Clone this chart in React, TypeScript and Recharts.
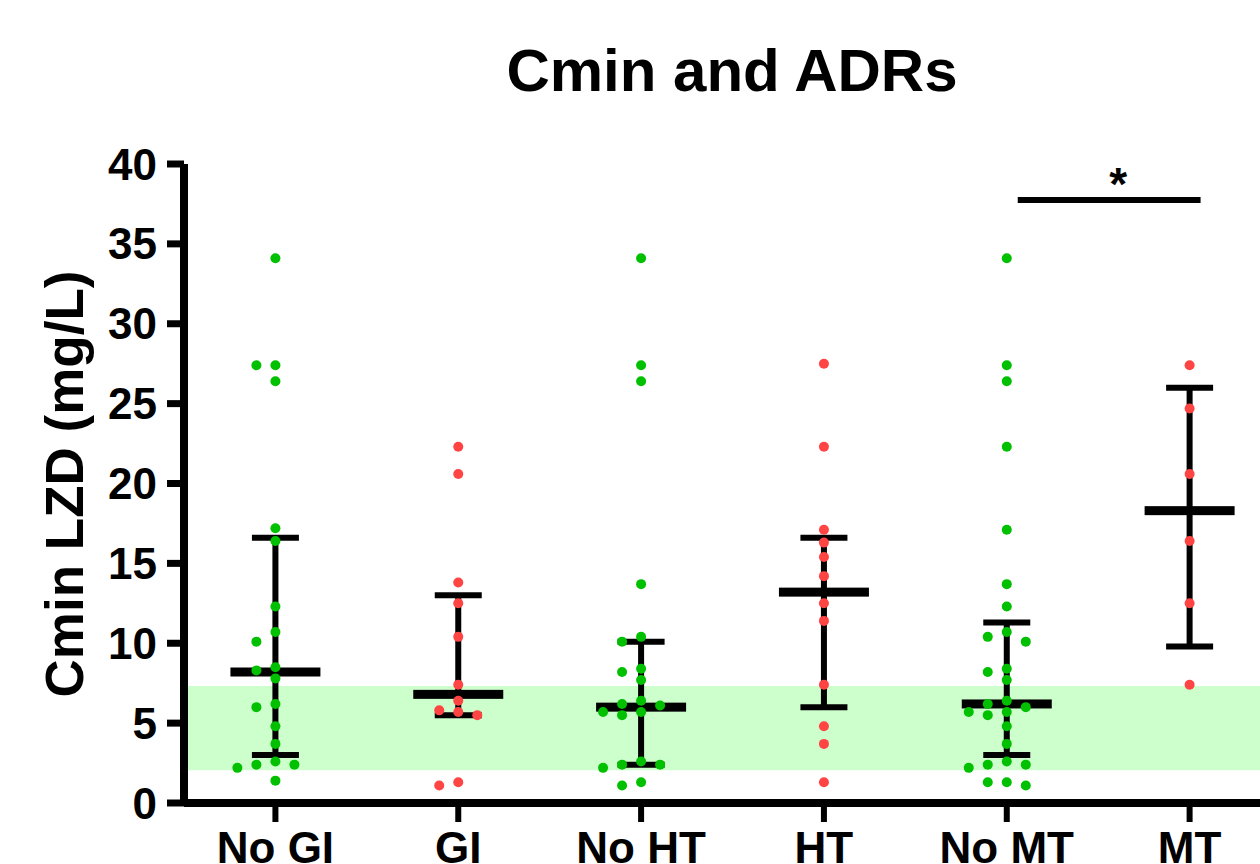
import React from "react";
import {
  ScatterChart,
  Scatter,
  XAxis,
  YAxis,
  ErrorBar,
  ReferenceArea,
  ReferenceLine,
} from "recharts";

const groups = ["No GI", "GI", "No HT", "HT", "No MT", "MT"];

// Cmin values (mg/L)
const noGI = [34.1, 27.4, 27.4, 26.4, 17.2, 16.4, 12.3, 10.7, 10.1, 8.5, 8.3, 7.8, 6.2, 6.0, 4.8, 3.7, 2.6, 2.4, 2.4, 2.2, 1.4];
const gi = [22.3, 20.6, 13.8, 12.5, 10.4, 7.4, 6.4, 5.8, 5.7, 5.5, 1.3, 1.1];
const noHT = [34.1, 27.4, 26.4, 13.7, 10.4, 10.1, 8.4, 8.2, 7.7, 6.4, 6.2, 6.1, 5.7, 5.7, 5.5, 2.6, 2.4, 2.4, 2.2, 1.3, 1.1];
const ht = [27.5, 22.3, 17.1, 16.3, 15.4, 14.2, 12.5, 11.4, 7.4, 4.8, 3.7, 1.3];
const noMT = [34.1, 27.4, 26.4, 22.3, 17.1, 13.7, 12.3, 10.7, 10.4, 10.1, 8.4, 8.2, 7.7, 6.4, 6.2, 6.0, 5.7, 5.7, 5.5, 4.8, 3.7, 2.6, 2.4, 2.4, 2.2, 1.3, 1.3, 1.1];
const mt = [27.4, 24.7, 20.6, 16.4, 12.5, 7.4];

const groupValues = [noGI, gi, noHT, ht, noMT, mt];
const hasADR = [false, true, false, true, false, true];

// median and interquartile range per group
const medians = [8.2, 6.8, 6.0, 13.2, 6.2, 18.3];
const lowerQ = [3.0, 5.5, 2.4, 6.0, 3.0, 9.8];
const upperQ = [16.6, 13.0, 10.1, 16.6, 11.3, 26.0];

// target range band and significance bar
const targetRange = [2.05, 7.33];
const sigBar = { from: 4, to: 5, y: 37.75, label: "*" };

const yTicks = [0, 5, 10, 15, 20, 25, 30, 35, 40];

const GREEN = "#00c000";
const RED = "#ff4444";
const FONT = "'Liberation Sans', Arial, sans-serif";

const SLOT = 0.104; // one dot column, in x units
const MIN_GAP = 0.63; // dot height, in y units

// simple beeswarm: columns 0, -1, 1, -2, 2 ... until nothing overlaps
function swarm(values: number[]) {
  const order = values.map((v, i) => i).sort((a, b) => values[b] - values[a]);
  const placed: { v: number; s: number }[] = [];
  const slots = new Array(values.length).fill(0);
  const cands = [0, -1, 1, -2, 2, -3, 3, -4, 4];
  order.forEach((i) => {
    const v = values[i];
    const s = cands.find((c) => !placed.some((p) => p.s === c && Math.abs(p.v - v) < MIN_GAP)) ?? 0;
    placed.push({ v, s });
    slots[i] = s;
  });
  return slots;
}

const greenDots: { x: number; y: number }[] = [];
const redDots: { x: number; y: number }[] = [];
groupValues.forEach((vals, g) => {
  const slots = swarm(vals);
  vals.forEach((v, i) => {
    (hasADR[g] ? redDots : greenDots).push({ x: g + slots[i] * SLOT, y: v });
  });
});

const summary = groups.map((name, i) => ({
  x: i,
  y: medians[i],
  err: [medians[i] - lowerQ[i], upperQ[i] - medians[i]],
}));

const MedianBar = (p: any) => (
  <rect x={p.cx - 45} y={p.cy - 4.5} width={90} height={9} fill="#000" />
);

const Dot = (color: string) => (p: any) => (
  <circle cx={p.cx} cy={p.cy} r={5} fill={color} />
);

const YLabel = () => (
  <text
    x={64}
    y={484}
    transform="rotate(-90 64 484)"
    textAnchor="middle"
    dominantBaseline="central"
    fontFamily={FONT}
    fontWeight="bold"
    fontSize={53}
    fill="#000"
  >
    Cmin LZD (mg/L)
  </text>
);

export default function App() {
  const tickStyle = { fill: "#000", fontSize: 44, fontWeight: "bold", fontFamily: FONT };
  return (
    <div style={{ position: "absolute", left: 0, top: 0, width: 1260, height: 864, overflow: "hidden", background: "#fff" }}>
      <div
        style={{
          position: "absolute",
          left: 432,
          width: 600,
          top: 41,
          textAlign: "center",
          fontFamily: FONT,
          fontWeight: "bold",
          fontSize: 60,
          lineHeight: "60px",
        }}
      >
        Cmin and ADRs
      </div>
      <ScatterChart width={1260} height={864} margin={{ top: 164, right: 0, bottom: 0, left: 0 }}>
        <ReferenceArea y1={targetRange[0]} y2={targetRange[1]} fill="#ccffcc" fillOpacity={1} stroke="none" />
        <XAxis
          type="number"
          dataKey="x"
          domain={[-0.5, 5.385]}
          allowDataOverflow
          ticks={[0, 1, 2, 3, 4, 5]}
          tickFormatter={(v) => groups[v]}
          interval={0}
          height={61}
          tickSize={19}
          tickMargin={10}
          axisLine={{ stroke: "#000", strokeWidth: 8 }}
          tickLine={{ stroke: "#000", strokeWidth: 6 }}
          tick={tickStyle}
        />
        <YAxis
          type="number"
          dataKey="y"
          domain={[0, 40]}
          ticks={yTicks}
          interval={0}
          width={184}
          tickSize={17}
          tickMargin={10}
          axisLine={{ stroke: "#000", strokeWidth: 8 }}
          tickLine={{ stroke: "#000", strokeWidth: 7 }}
          tick={tickStyle}
          label={<YLabel />}
        />
        <ReferenceLine
          segment={[
            { x: sigBar.from + 0.06, y: sigBar.y },
            { x: sigBar.to + 0.06, y: sigBar.y },
          ]}
          stroke="#000"
          strokeWidth={6}
          label={{
            value: sigBar.label,
            position: "top",
            offset: 0,
            dx: 9,
            fill: "#000",
            fontSize: 46,
            fontWeight: "bold",
            fontFamily: FONT,
          }}
        />
        <Scatter data={summary} shape={MedianBar} isAnimationActive={false}>
          <ErrorBar dataKey="err" direction="y" width={23.5} stroke="#000" strokeWidth={6} />
        </Scatter>
        <Scatter data={greenDots} shape={Dot(GREEN)} isAnimationActive={false} />
        <Scatter data={redDots} shape={Dot(RED)} isAnimationActive={false} />
      </ScatterChart>
    </div>
  );
}
